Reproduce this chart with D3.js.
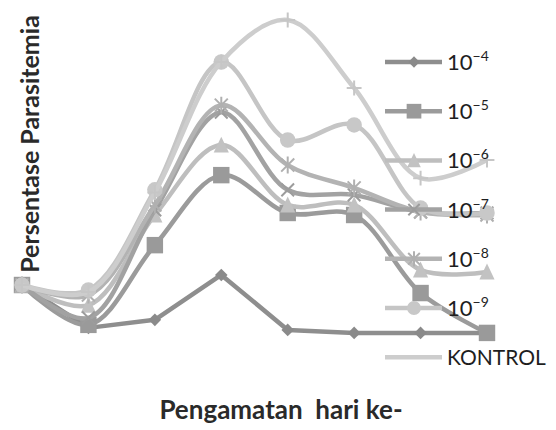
<!DOCTYPE html>
<html>
<head>
<meta charset="utf-8">
<script src="https://cdn.jsdelivr.net/npm/d3@7"></script>
<style>
  html, body { margin: 0; padding: 0; background: #fff; }
  svg { display: block; font-family: Lato, "Open Sans", sans-serif; }
</style>
</head>
<body>
<div id="chart"></div>
<script>
// observation days (no tick labels shown on the original)
const days = [1, 2, 3, 4, 5, 6, 7, 8];

// parasitemia per dilution (arbitrary %, y axis has no ticks)
const seriesNames = ["4", "5", "6", "7", "8", "9", "KONTROL"];
const d4 = [1.94, 0.66, 0.90, 2.24, 0.60, 0.51, 0.51, 0.51];
const d5 = [1.94, 0.75, 3.13, 5.22, 4.09, 4.03, 1.70, 0.51];
const d6 = [1.94, 1.34, 4.03, 6.12, 4.33, 4.33, 2.39, 2.33];
const d7 = [1.94, 0.96, 4.18, 7.10, 4.78, 4.63, 4.12, 4.09];
const d8 = [1.94, 1.64, 4.33, 7.31, 5.52, 4.84, 4.12, 4.03];
const d9 = [1.94, 1.79, 4.78, 8.60, 6.27, 6.72, 4.24, 4.09];
const kontrol = [1.94, 1.73, 4.70, 8.60, 9.85, 7.82, 5.13, 5.67];
const seriesValues = [d4, d5, d6, d7, d8, d9, kontrol];

const width = 556, height = 430;

// grayscale copy of the usual office palette
const colors = ["#8e8e8e", "#9b9b9b", "#bebebe", "#a2a2a2", "#b3b3b3", "#c5c5c5", "#cdcdcd"];
const markerColors = ["#8a8a8a", "#9a9a9a", "#c2c2c2", "#9c9c9c", "#b0b0b0", "#c8c8c8", "#c6c6c6"];

// small custom symbols so the stroke ones look like the excel ones
const sym = {
  diamond: { draw(ctx, s) { const r = Math.sqrt(s) / 2 * 1.2; ctx.moveTo(0, -r); ctx.lineTo(r, 0); ctx.lineTo(0, r); ctx.lineTo(-r, 0); ctx.closePath(); } },
  square: { draw(ctx, s) { const r = Math.sqrt(s) / 2; ctx.rect(-r, -r, 2 * r, 2 * r); } },
  triangle: { draw(ctx, s) { const r = Math.sqrt(s) / 2; ctx.moveTo(0, -r * 1.1); ctx.lineTo(r, r); ctx.lineTo(-r, r); ctx.closePath(); } },
  x: { draw(ctx, s) { const r = Math.sqrt(s) / 2; ctx.moveTo(-r, -r); ctx.lineTo(r, r); ctx.moveTo(r, -r); ctx.lineTo(-r, r); } },
  star: { draw(ctx, s) { const r = Math.sqrt(s) / 2; ctx.moveTo(-r, -r); ctx.lineTo(r, r); ctx.moveTo(r, -r); ctx.lineTo(-r, r); ctx.moveTo(0, -r * 1.3); ctx.lineTo(0, r * 1.3); } },
  circle: { draw(ctx, s) { const r = Math.sqrt(s) / 2; ctx.moveTo(r, 0); ctx.arc(0, 0, r, 0, 2 * Math.PI); } },
  plus: { draw(ctx, s) { const r = Math.sqrt(s) / 2; ctx.moveTo(-r, 0); ctx.lineTo(r, 0); ctx.moveTo(0, -r); ctx.lineTo(0, r); } },
};
const shapes = ["diamond", "square", "triangle", "x", "star", "circle", "plus"];
const shapeSize = { diamond: 110, square: 270, triangle: 230, x: 160, star: 170, circle: 240, plus: 220 };
const strokeShape = new Set(["x", "star", "plus"]);

const svg = d3.select("#chart").append("svg")
  .attr("width", width)
  .attr("height", height);

const x = d3.scalePoint()
  .domain(days)
  .range([22, 487]);

const y = d3.scaleLinear()
  .domain([0, 10])
  .range([350, 15]);

const line = d3.line()
  .x((d, i) => x(days[i]))
  .y((d) => y(d));

const plot = svg.append("g");

seriesValues.forEach((vals, k) => {
  const g = plot.append("g");
  g.append("path")
    .datum(vals)
    .attr("fill", "none")
    .attr("stroke", colors[k])
    .attr("stroke-width", 4.5)
    .attr("stroke-linejoin", "round")
    .attr("d", k === 0 ? line.curve(d3.curveLinear)(vals) : line.curve(d3.curveCatmullRom.alpha(0.5))(vals));

  const shape = shapes[k];
  g.selectAll("path.mk")
    .data(vals)
    .join("path")
    .attr("class", "mk")
    .attr("transform", (d, i) => `translate(${x(days[i])},${y(d)})`)
    .attr("d", d3.symbol(sym[shape], shapeSize[shape]))
    .attr("fill", strokeShape.has(shape) ? "none" : markerColors[k])
    .attr("stroke", markerColors[k])
    .attr("stroke-width", strokeShape.has(shape) ? 2 : 0);
});

// legend on the right, overlapping the plot
const legend = svg.append("g").attr("transform", "translate(385,62)");
const rowStep = 49.2;

seriesNames.forEach((name, k) => {
  const row = legend.append("g").attr("transform", `translate(0,${k * rowStep})`);
  row.append("line")
    .attr("x1", 0).attr("x2", 57)
    .attr("stroke", colors[k])
    .attr("stroke-width", 4.5);
  const shape = shapes[k];
  if (k < 6) {
    row.append("path")
      .attr("transform", "translate(29,0)")
      .attr("d", d3.symbol(sym[shape], shapeSize[shape] * 0.8))
      .attr("fill", strokeShape.has(shape) ? "none" : markerColors[k])
      .attr("stroke", markerColors[k])
      .attr("stroke-width", strokeShape.has(shape) ? 2 : 0);
  }
  const label = row.append("text")
    .attr("x", 62)
    .attr("y", 8)
    .attr("fill", "#1e1e1e")
    .attr("font-size", "21px");
  if (k < 6) {
    label.append("tspan").attr("font-size", "22px").text("10");
    label.append("tspan")
      .attr("dy", -9)
      .attr("font-size", "14px")
      .text("\u2212" + name);
  } else {
    label.text(name);
  }
});

// axis titles (the chart has no axes drawn)
svg.append("text")
  .attr("transform", "translate(39,144) rotate(-90)")
  .attr("text-anchor", "middle")
  .attr("fill", "#2a2a2a")
  .attr("font-size", "25px")
  .attr("font-weight", 700)
  .text("Persentase Parasitemia");

svg.append("text")
  .attr("x", 281)
  .attr("y", 419)
  .attr("text-anchor", "middle")
  .attr("fill", "#2a2a2a")
  .attr("font-size", "26px")
  .attr("font-weight", 700)
  .style("white-space", "pre")
  .text("Pengamatan  hari ke-");
</script>
</body>
</html>
